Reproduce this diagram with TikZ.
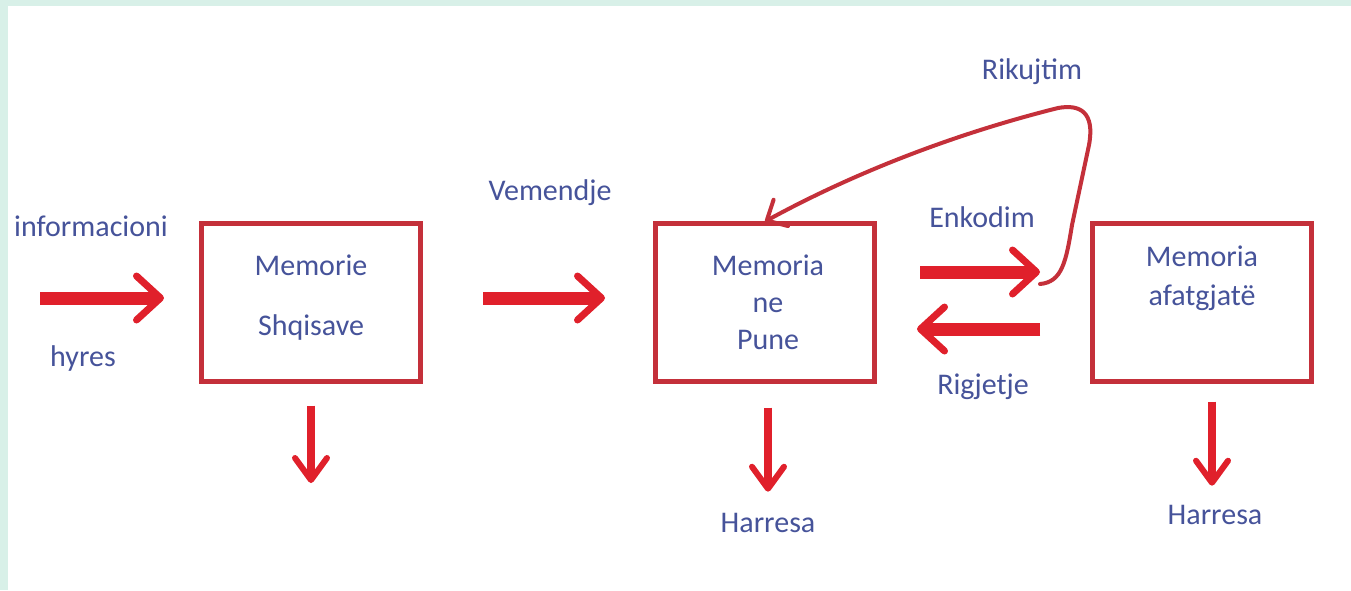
\documentclass[tikz,border=0pt]{standalone}
\usepackage{fontspec}
\setmainfont{Carlito}
\usetikzlibrary{arrows.meta}
\definecolor{boxred}{HTML}{C4303A}
\definecolor{arrred}{HTML}{E0202B}
\definecolor{txtblue}{HTML}{46539A}
\definecolor{mint}{HTML}{D8F0E8}

\begin{document}
\begin{tikzpicture}[x=1pt,y=-1pt]
\tikzset{
  mem/.style={draw=boxred,line width=5pt,minimum width=219pt,minimum height=158pt},
  lbl/.style={text=txtblue,align=center,font=\fontsize{30}{39}\selectfont},
  bigarrow/.style={draw=arrred,line width=13pt,
    -{Straight Barb[length=24pt,width=44pt,line width=7pt,round]}},
  downarrow/.style={draw=arrred,line width=8pt,
    -{Straight Barb[length=22pt,width=32pt,line width=6pt,round]}},
  recall/.style={draw=boxred,line width=4pt,line cap=round,line join=round,
    -{Straight Barb[length=16pt,width=30pt,line width=4pt,round]}}
}
\fill[mint] (0,0) rectangle (1351,590);
\fill[white] (8,6) rectangle (1351,590);
\useasboundingbox (0,0) rectangle (1351,590);

\node[mem] (shq) at (311,302) {};
\node[mem] (pune) at (765,302) {};
\node[mem] (afat) at (1202,302) {};

\node[lbl] (shqtxt) at (311,298) {Memorie\\[21pt]Shqisave};
\node[lbl] (punetxt) at (768,302) {Memoria\\[-2pt]ne\\[-2pt]Pune};
\node[lbl] (afattxt) at (1202,278) {Memoria\\afatgjatë};

\node[lbl] (info) at (91,226) {informacioni};
\node[lbl] (hyres) at (83,358) {hyres};
\node[lbl] (vem) at (550,193) {Vemendje};
\node[lbl] (enk) at (982,217) {Enkodim};
\node[lbl] (rig) at (983,387) {Rigjetje};
\node[lbl] (rik) at (1032,72) {Rikujtim};
\node[lbl] (harr1) at (768,523) {Harresa};
\node[lbl] (harr2) at (1215,515) {Harresa};

\coordinate (src) at (40,298);
\coordinate (sink) at (311,483);
\coordinate (loop) at (1040,284);

\draw[bigarrow,shorten >=35pt] (src) -- (shq.west |- src);
\draw[bigarrow] ([xshift=60pt,yshift=4pt]shq.east) -- ([xshift=-48pt,yshift=4pt]pune.west);
\draw[bigarrow] ([xshift=43pt,yshift=30pt]pune.east) -- ([xshift=-50pt,yshift=30pt]afat.west);
\draw[bigarrow] ([xshift=-50pt,yshift=-27pt]afat.west) -- ([xshift=40pt,yshift=-27pt]pune.east);

\draw[downarrow,shorten <=22pt] (shq.south) -- (sink);
\draw[downarrow,shorten <=24pt,shorten >=18pt] ([xshift=3pt]pune.south) -- (harr1.north);
\draw[downarrow,shorten <=18pt,shorten >=16pt] ([xshift=10pt]afat.south) -- ([xshift=-3pt]harr2.north);

\draw[recall] (loop) .. controls (1062,282) and (1066,262) .. (1072,225)
  -- (1089,145) .. controls (1095,112) and (1080,104) .. (1058,108)
  .. controls (950,135) and (850,175) .. ([yshift=-1pt]pune.north);
\end{tikzpicture}
\end{document}
